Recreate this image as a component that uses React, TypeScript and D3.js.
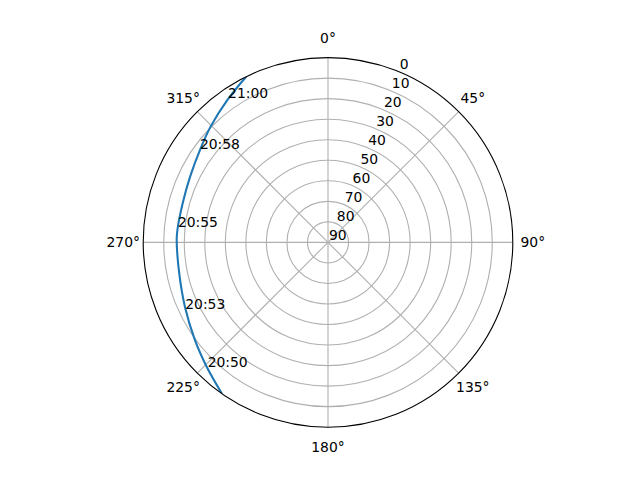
import React from "react";
import * as d3 from "d3";

// Satellite pass track (azimuth degrees clockwise from north, elevation degrees)
const trackAz = [215.0, 224.3, 233.7, 245.8, 258.3, 270.9, 274.7, 285.1, 295.5, 305.8, 314.6, 324.7, 333.7];
const trackEl = [0.0, 5.4, 9.6, 13.6, 16.0, 16.3, 16.4, 16.7, 15.6, 13.1, 9.7, 5.1, 0.0];

// Time annotations along the track
const timeLabels = ["20:50", "20:53", "20:55", "20:58", "21:00"];
const timeAz = [224.0, 245.0, 276.0, 306.1, 325.3];
const timeEl = [5.65, 13.3, 16.5, 12.8, 4.5];

// Axis ticks
const angleTicks = [0, 45, 90, 135, 180, 225, 270, 315];
const radialTicks = [0, 10, 20, 30, 40, 50, 60, 70, 80, 90];

const W = 640;
const H = 480;
const CX = 328;
const CY = 242.4;
const R = 184.8;
const FONT = "DejaVu Sans, sans-serif";
const FS = 13.9;

export default function App() {
  React.useEffect(() => {
    document.body.style.margin = "0";
  }, []);

  const rScale = d3.scaleLinear().domain([90, 0]).range([0, R]);
  const toRad = (deg: number) => (deg * Math.PI) / 180;
  const px = (az: number, el: number) => CX + rScale(el) * Math.sin(toRad(az));
  const py = (az: number, el: number) => CY - rScale(el) * Math.cos(toRad(az));

  const pts = trackAz.map((a, i) => [toRad(a), rScale(trackEl[i])] as [number, number]);
  const line = d3
    .lineRadial<[number, number]>()
    .angle((d) => d[0])
    .radius((d) => d[1])
    .curve(d3.curveCatmullRom);
  const pathD = line(pts) || "";

  const rlabelAngle = 22.5;

  return (
    <svg
      width={W}
      height={H}
      style={{ position: "absolute", left: 0, top: 0, display: "block", background: "#fff" }}
      fontFamily={FONT}
      fontSize={FS}
    >
      <defs>
        <clipPath id="polarClip">
          <circle cx={CX} cy={CY} r={R} />
        </clipPath>
      </defs>
      <rect width={W} height={H} fill="#fff" />
      {/* circular gridlines */}
      {radialTicks
        .filter((t) => t > 0 && t < 90)
        .map((t) => (
          <circle key={"c" + t} cx={CX} cy={CY} r={rScale(t)} fill="none" stroke="#b0b0b0" strokeWidth={1.1} />
        ))}
      {/* angular gridlines */}
      {angleTicks.map((a) => (
        <line
          key={"l" + a}
          x1={CX}
          y1={CY}
          x2={px(a, 0)}
          y2={py(a, 0)}
          stroke="#b0b0b0"
          strokeWidth={1.1}
        />
      ))}
      {/* track */}
      <g clipPath="url(#polarClip)">
        <path d={pathD} transform={`translate(${CX},${CY})`} fill="none" stroke="#1f77b4" strokeWidth={2.08} />
      </g>
      {/* spine */}
      <circle cx={CX} cy={CY} r={R} fill="none" stroke="#000" strokeWidth={1.1} />
      {/* angular labels */}
      {angleTicks.map((a) => (
        <text
          key={"t" + a}
          x={CX + (R + 20) * Math.sin(toRad(a))}
          y={CY - (R + 20) * Math.cos(toRad(a))}
          textAnchor="middle"
          dominantBaseline="central"
          fill="#000"
        >
          {a + "°"}
        </text>
      ))}
      {/* radial labels */}
      {radialTicks.map((t) => (
        <text
          key={"r" + t}
          x={px(rlabelAngle, t) + 1}
          y={py(rlabelAngle, t) - 2.4}
          textAnchor="start"
          fill="#000"
        >
          {String(t)}
        </text>
      ))}
      {/* time labels */}
      {timeLabels.map((s, i) => (
        <text key={"tm" + i} x={px(timeAz[i], timeEl[i])} y={py(timeAz[i], timeEl[i])} fill="#000">
          {s}
        </text>
      ))}
    </svg>
  );
}
